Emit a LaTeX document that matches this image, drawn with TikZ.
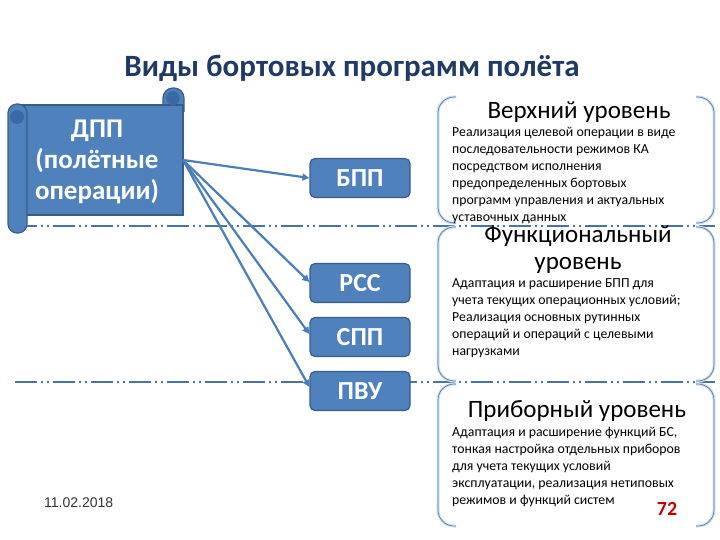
\documentclass[tikz,border=0pt]{standalone}
\usepackage{fontspec}
\setmainfont{Carlito}
\newfontfamily\arialfont{Liberation Sans}
\usetikzlibrary{arrows.meta}
\definecolor{boxblue}{HTML}{4F81BD}
\definecolor{boxedge}{HTML}{385D8A}
\definecolor{arrowblue}{HTML}{4A7EBB}
\definecolor{titlecol}{HTML}{1F3A63}
\definecolor{dashcol}{HTML}{4A73A5}
\definecolor{brackcol}{HTML}{5F7A95}
\definecolor{glowcol}{HTML}{CFE0F0}
\definecolor{curlcol}{HTML}{3A6AA5}
\definecolor{numred}{HTML}{C00000}
\tikzset{
  pbox/.style={draw=boxedge, line width=1.2pt, fill=boxblue, rounded corners=5pt,
    minimum width=100pt, minimum height=39pt, text=white,
    font=\fontsize{26}{28}\selectfont\bfseries},
  conn/.style={draw=arrowblue, line width=2.2pt, -{Triangle[length=7pt,width=7pt]}},
  levelline/.style={draw=dashcol, line width=2pt,
    dash pattern=on 22pt off 4pt on 2pt off 4pt on 2pt off 4pt},
  brackglow/.style={draw=glowcol, line width=3pt, rounded corners=16pt},
  brack/.style={draw=brackcol, line width=0.7pt, rounded corners=16pt},
  scrollpart/.style={draw=boxedge, line width=1.2pt, fill=boxblue},
  lvltitle/.style={font=\fontsize{25}{27}\selectfont, align=center, inner sep=0pt},
  lvlbody/.style={font=\fontsize{13.8}{17}\selectfont, align=left, anchor=north west, inner sep=0pt}
}
\begin{document}
\begin{tikzpicture}[x=1pt,y=-1pt]
\useasboundingbox (0,0) rectangle (720,540);

% title
\node[font=\fontsize{31}{34}\selectfont\bfseries, text=titlecol] (title) at (352,68) {Виды бортовых программ полёта};

% level separator lines
\draw[levelline] (15,226) -- (715,226);
\draw[levelline] (15,382) -- (715,382);

% scroll (ДПП)
\draw[scrollpart, rounded corners=10pt] (163,112) -- (163,88) -- (184,88) -- (184,112);
\draw[scrollpart] (20,105) rectangle (183,215);
\draw[scrollpart, rounded corners=9pt] (8,104) rectangle (27,233);
\fill[curlcol] (17,117) circle (7pt);
\fill[curlcol] (173,98) circle (7pt);
\node[font=\fontsize{27}{31}\selectfont\bfseries, text=white, align=center] (dpp) at (97,162) {ДПП\\(полётные\\операции)};

% program boxes
\node[pbox] (bpp) at (360,178) {БПП};
\node[pbox] (rss) at (360,283) {РСС};
\node[pbox] (spp) at (360,337) {СПП};
\node[pbox] (pvu) at (360,391) {ПВУ};

% connectors
\coordinate (src) at (183,160);
\draw[conn] (src) -- (bpp.west);
\draw[conn] (src) -- ([yshift=1pt]rss.west);
\draw[conn] (src) -- ([yshift=3pt]spp.west);
\draw[conn] (src) -- ([yshift=4pt]pvu.west);

% level panels (double brackets)
\foreach \t/\b in {97/223, 227/381, 384/526} {
  \draw[brackglow] (456,\t) -- (438,\t) -- (438,\b) -- (456,\b);
  \draw[brackglow] (696,\t) -- (714,\t) -- (714,\b) -- (696,\b);
  \draw[brack] (456,\t) -- (438,\t) -- (438,\b) -- (456,\b);
  \draw[brack] (696,\t) -- (714,\t) -- (714,\b) -- (696,\b);
}

% upper level
\node[lvltitle] (t1) at (579,112) {Верхний уровень};
\node[lvlbody] (b1) at (452,127) {Реализация целевой операции в виде\\последовательности режимов КА\\посредством исполнения\\предопределенных бортовых\\программ управления и актуальных\\уставочных данных};

% functional level
\node[lvltitle] (t2) at (578,249.5) {Функциональный\\уровень};
\node[lvlbody] (b2) at (452,278) {Адаптация и расширение БПП для\\учета текущих операционных условий;\\Реализация основных рутинных\\операций и операций с целевыми\\нагрузками};

% device level
\node[lvltitle] (t3) at (577,411) {Приборный уровень};
\node[lvlbody] (b3) at (452,427) {Адаптация и расширение функций БС,\\тонкая настройка отдельных приборов\\для учета текущих условий\\эксплуатации, реализация нетиповых\\режимов и функций систем};

\node[font=\fontsize{20}{22}\selectfont\bfseries, text=numred] (num) at (667,509) {72};
\node[font=\arialfont\fontsize{14}{16}\selectfont, text=black!80, anchor=west, inner sep=0pt] (date) at (44,503) {11.02.2018};
\end{tikzpicture}
\end{document}
